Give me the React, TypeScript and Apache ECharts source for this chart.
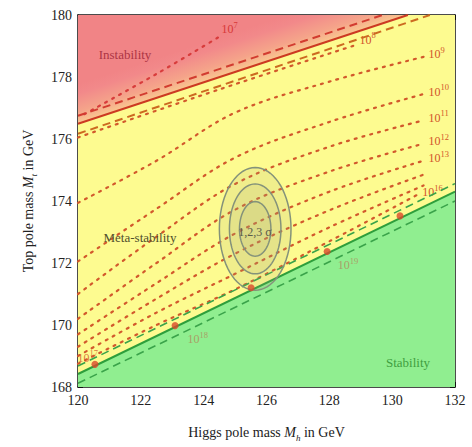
import React, { useEffect, useRef } from "react";
import * as echarts from "echarts";

// ---- axes ----
const X_RANGE = [120, 132];
const Y_RANGE = [168, 180];

// ---- boundaries (Higgs mass, top mass) ----
const instabilityLine = [[120, 176.49], [130.5, 180]];
const instabilityUpper = [[120, 176.75], [129.7, 180]];
const instabilityLower = [[120, 176.17], [131.2, 180]];
const stabilityLine = [[120, 168.42], [132, 174.3]];
const stabilityUpper = [[120, 168.68], [132, 174.56]];
const stabilityLower = [[120, 168.12], [132, 174.0]];

// ---- instability scale contours, exponent of 10 ----
const scaleExponents = ["7", "8", "9", "10", "11", "12", "13", "14", "15", "16"];
const scaleShowLabel = [true, true, true, true, true, true, true, false, false, true];
const scale7 = [[120.2, 176.8], [122.5, 178.1], [124.5, 179.3]];
const scale8 = [[120, 176.05], [124.5, 177.6], [128.9, 179.05]];
const scale9 = [[120, 173.94], [122.5, 175.3], [125, 176.85], [128, 177.85], [131, 178.65]];
const scale10 = [[120, 172.05], [122.5, 173.75], [125, 175.4], [128, 176.55], [131, 177.45]];
const scale11 = [[120, 171.0], [122.5, 172.85], [125, 174.55], [128, 175.75], [131, 176.6]];
const scale12 = [[120, 170.2], [122.5, 172.0], [125, 173.72], [128, 174.95], [131, 175.85]];
const scale13 = [[120, 169.7], [122.5, 171.35], [125, 172.95], [128, 174.3], [131, 175.3]];
const scale14 = [[120, 169.3], [122.5, 170.85], [125, 172.3], [128, 173.7], [131, 174.85]];
const scale15 = [[120, 169.0], [122.5, 170.4], [125, 171.65], [128, 173.15], [131, 174.5]];
const scale16 = [[120, 168.75], [122.5, 170.0], [125, 171.15], [128, 172.7], [130.8, 174.2]];
const scaleLines = [scale7, scale8, scale9, scale10, scale11, scale12, scale13, scale14, scale15, scale16];

// ---- points on the stability line ----
const stabilityDots = [[120.54, 168.73], [123.09, 169.98], [125.51, 171.2], [127.93, 172.37], [130.25, 173.52]];
const stabilityDotLabels = ["17", "18", "", "19", ""];

// ---- experimental measurement ----
const measCenter = [125.64, 173.1];
const sigmaMh = [0.5, 0.82, 1.14];
const sigmaMt = [0.88, 1.45, 1.98];

const SERIF = "'Liberation Serif', 'DejaVu Serif', serif";

export default function App() {
  const ref = useRef<HTMLDivElement>(null);
  useEffect(() => {
    if (!ref.current) return;
    const chart = echarts.init(ref.current, null, { renderer: "svg" });

    const redPoly = [...instabilityLine, [X_RANGE[0], Y_RANGE[1]]];
    const greenPoly = [...stabilityLine, [X_RANGE[1], Y_RANGE[0]], [X_RANGE[0], Y_RANGE[0]]];
    const fullRect = [[X_RANGE[0], Y_RANGE[0]], [X_RANGE[1], Y_RANGE[0]], [X_RANGE[1], Y_RANGE[1]], [X_RANGE[0], Y_RANGE[1]]];

    const supRich = {
      b: { fontSize: 12, fontFamily: SERIF, lineHeight: 15, verticalAlign: "bottom" },
      s: { fontSize: 8.5, fontFamily: SERIF, lineHeight: 15, verticalAlign: "top" },
    };

    const axisCommon = {
      type: "value",
      splitLine: { show: false },
      axisLine: { show: true, onZero: false, lineStyle: { color: "#111", width: 1.5 } },
      axisTick: { show: true, inside: true, length: 5, lineStyle: { color: "#111", width: 1 } },
      minorTick: { show: true, splitNumber: 5, length: 3, lineStyle: { color: "#111", width: 1 } },
    };

    const bg = (poly: number[][], fill: any, z: number) => ({
      type: "custom",
      silent: true,
      z,
      data: [[125, 174]],
      renderItem: (_p: any, api: any) => ({
        type: "polygon",
        shape: { points: poly.map((p) => api.coord(p)) },
        style: { fill: typeof fill === "function" ? fill(api) : fill },
      }),
    });

    const redFill = (api: any) => {
      const a = api.coord(instabilityLine[0]);
      const b = api.coord(instabilityLine[1]);
      const mx = (a[0] + b[0]) / 2, my = (a[1] + b[1]) / 2;
      const dx = b[0] - a[0], dy = b[1] - a[1];
      const L = Math.hypot(dx, dy);
      const nx = dy / L, ny = -dx / L;
      return new echarts.graphic.LinearGradient(mx, my, mx + nx * 38, my + ny * 38, [
        { offset: 0, color: "#f9c890" },
        { offset: 0.3, color: "#f5a48a" },
        { offset: 0.75, color: "#f2898a" },
        { offset: 1, color: "#f18486" },
      ], true);
    };

    const lineSeries = (data: number[][], color: string, type: any, width: number, z = 4) => ({
      type: "line",
      data,
      symbol: "none",
      silent: true,
      z,
      lineStyle: { color, width, type },
    });

    const series: any[] = [
      bg(fullRect, "#fdfb90", 1),
      bg(redPoly, redFill, 2),
      bg(greenPoly, "#90ee90", 2),
    ];

    scaleLines.forEach((pts, i) => {
      const exp = scaleExponents[i];
      const isLow = i === 0;
      series.push({
        type: "line",
        data: pts,
        symbol: "none",
        smooth: 0.35,
        silent: true,
        z: 3,
        lineStyle: { color: isLow ? "#d83c3c" : "#d2592c", width: 2.2, type: [2, 6], cap: "round" },
        endLabel: {
          show: scaleShowLabel[i],
          formatter: () => `{b|10}{s|${exp}}`,
          color: isLow ? "#d83838" : "#d2532a",
          distance: i <= 1 ? 2 : 5,
          offset: i === 0 ? [0, -9] : i === 1 ? [0, -6] : [0, -4],
          rich: supRich,
        },
      });
    });

    series.push(
      lineSeries(instabilityUpper, "#d23c30", [8, 5], 2),
      lineSeries(instabilityLine, "#cc3a22", "solid", 2),
      lineSeries(instabilityLower, "#cc6a20", [8, 5], 2),
      lineSeries(stabilityUpper, "#3aa34a", [8, 5], 1.6),
      lineSeries(stabilityLine, "#2e9e3c", "solid", 2),
      lineSeries(stabilityLower, "#3aa34a", [8, 5], 1.6)
    );

    series.push({
      type: "custom",
      silent: true,
      z: 5,
      data: [measCenter],
      renderItem: (_p: any, api: any) => {
        const children: any[] = [];
        for (let k = sigmaMh.length - 1; k >= 0; k--) {
          const pts: number[][] = [];
          for (let t = 0; t < 72; t++) {
            const th = (t / 72) * Math.PI * 2;
            pts.push(api.coord([measCenter[0] + sigmaMh[k] * Math.cos(th), measCenter[1] + sigmaMt[k] * Math.sin(th)]));
          }
          children.push({
            type: "polygon",
            shape: { points: pts },
            style: { fill: "rgba(165,160,120,0.14)", stroke: "#84927a", lineWidth: 1.5 },
          });
        }
        return { type: "group", children };
      },
    });

    const dotLabelOffsets = [[-26, -8], [4, 12], [0, 0], [2, 12], [0, 0]];
    series.push({
      type: "scatter",
      data: stabilityDots,
      symbolSize: 7,
      silent: true,
      z: 6,
      itemStyle: { color: "#d9482b" },
      label: {
        show: true,
        position: "right",
        formatter: (p: any) => {
          const e = stabilityDotLabels[p.dataIndex];
          return e ? `{b|10}{s|${e}}` : "";
        },
        color: "#b0875a",
        rich: supRich,
      },
    });
    const dotSeries = series[series.length - 1];
    dotSeries.data = stabilityDots.map((v, i) => ({
      value: v,
      label: {
        offset: dotLabelOffsets[i],
        color: i === 0 ? "#d2532a" : "#b0875a",
      },
    }));

    const option: any = {
      animation: false,
      backgroundColor: "#ffffff",
      grid: { left: 78, right: 17, top: 15, bottom: 56 },
      xAxis: [
        {
          ...axisCommon,
          min: X_RANGE[0], max: X_RANGE[1], interval: 2, position: "bottom",
          axisLabel: { color: "#222", fontFamily: SERIF, fontSize: 14, margin: 6 },
          name: "Higgs pole mass {i|M}{sub|h} in GeV",
          nameLocation: "middle",
          nameGap: 35,
          nameTextStyle: {
            color: "#222", fontFamily: SERIF, fontSize: 14, lineHeight: 20,
            rich: {
              i: { fontStyle: "italic", fontFamily: SERIF, fontSize: 14, lineHeight: 20 },
              sub: { fontStyle: "italic", fontFamily: SERIF, fontSize: 9, lineHeight: 20, verticalAlign: "bottom" },
            },
          },
        },
        {
          ...axisCommon,
          min: X_RANGE[0], max: X_RANGE[1], interval: 2, position: "top",
          axisLabel: { show: false },
        },
      ],
      yAxis: [
        {
          ...axisCommon,
          min: Y_RANGE[0], max: Y_RANGE[1], interval: 2, position: "left",
          axisLabel: { color: "#222", fontFamily: SERIF, fontSize: 14, margin: 6 },
          name: "Top pole mass {i|M}{sub|t} in GeV",
          nameLocation: "middle",
          nameGap: 40,
          nameRotate: 90,
          nameTextStyle: {
            color: "#222", fontFamily: SERIF, fontSize: 14, lineHeight: 20,
            rich: {
              i: { fontStyle: "italic", fontFamily: SERIF, fontSize: 14, lineHeight: 20 },
              sub: { fontStyle: "italic", fontFamily: SERIF, fontSize: 9, lineHeight: 20, verticalAlign: "bottom" },
            },
          },
        },
        {
          ...axisCommon,
          min: Y_RANGE[0], max: Y_RANGE[1], interval: 2, position: "right",
          axisLabel: { show: false },
        },
      ],
      graphic: [
        { type: "text", x: 125, y: 54, z: 100, style: { text: "Instability", fill: "#ad3444", font: `13px ${SERIF}`, align: "center", verticalAlign: "middle" } },
        { type: "text", x: 140, y: 237, z: 100, style: { text: "Meta-stability", fill: "#4f4f2c", font: `13px ${SERIF}`, align: "center", verticalAlign: "middle" } },
        { type: "text", x: 408, y: 362, z: 100, style: { text: "Stability", fill: "#3f9f3f", font: `13px ${SERIF}`, align: "center", verticalAlign: "middle" } },
        { type: "text", x: 255, y: 232, z: 100, style: { text: "1,2,3 σ", fill: "#5a5a4a", font: `12px ${SERIF}`, align: "center", verticalAlign: "middle" } },
      ],
      series,
    };

    chart.setOption(option);
    return () => chart.dispose();
  }, []);

  return <div ref={ref} style={{ position: "fixed", left: 0, top: 0, width: 472, height: 447 }} />;
}
